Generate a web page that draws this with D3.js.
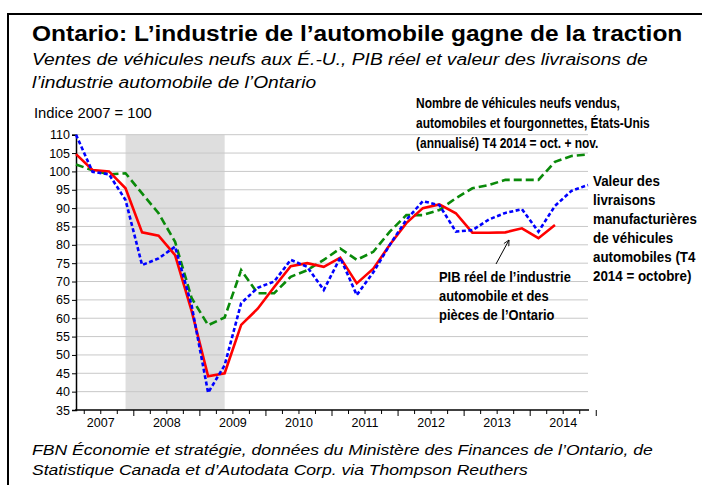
<!DOCTYPE html>
<html>
<head>
<meta charset="utf-8">
<script src="https://cdn.jsdelivr.net/npm/d3@7"></script>
<style>
  body { margin: 0; background: #fff; }
  svg { display: block; font-family: "Liberation Sans", Arial, sans-serif; }
</style>
</head>
<body>
<div id="chart"></div>
<script>
// Years and quarters (T1..T4)
const years = [2007, 2008, 2009, 2010, 2011, 2012, 2013, 2014];
const quarters = years.flatMap(y => [1, 2, 3, 4].map(q => `${y}T${q}`));

// Nombre de véhicules neufs vendus, É.-U. (indice 2007 = 100)
const ventes = [101.9, 100.3, 99.2, 99.5, 94, 88.6, 80.8, 65.5,
  58.1, 60.2, 73.1, 66.8, 66.8, 71.3, 73.1, 75.9,
  79, 75.9, 78.1, 83.6, 88.1, 88.1, 89.5, 92.7,
  95.4, 96.3, 97.7, 97.7, 97.7, 102.6, 104.2, 104.6];

// Valeur des livraisons manufacturières de véhicules automobiles
const livraisons = [110, 99.9, 99.2, 92.2, 74.5, 76.3, 79.5, 63.5,
  39.7, 47.2, 64.1, 68.3, 70, 75.9, 74, 67.7,
  76.5, 66.3, 72.5, 80, 86.8, 91.9, 90.8, 83.6,
  84, 86.9, 88.7, 89.7, 83.6, 90.6, 94.7, 96.3];

// PIB réel de l'industrie automobile et des pièces de l'Ontario
const pib = [104.7, 100.4, 100, 95.4, 83.4, 82.5, 77.2, 62,
  44.2, 45, 58.2, 62.6, 68.5, 74.2, 75, 74,
  76.5, 69.5, 73.5, 80, 85.9, 90, 91, 88.6,
  83.3, 83.3, 83.4, 84.5, 81.8, 85.4];

const yTicks = d3.range(35, 111, 5);
const recession = ["2007T4", "2009T2"];

const width = 702, height = 485;
const svg = d3.select("#chart").append("svg")
  .attr("width", width).attr("height", height);

// frame
svg.append("rect")
  .attr("x", 8).attr("y", 14).attr("width", 720).attr("height", 500)
  .attr("fill", "none").attr("stroke", "#000").attr("stroke-width", 2);

const x = d3.scalePoint().domain(quarters).range([76, 588]);
const y = d3.scaleLinear().domain([35, 110]).range([410, 134.7]);
const step = x.step();

// recession shading
svg.append("rect")
  .attr("x", x(recession[0]))
  .attr("y", y(110))
  .attr("width", x(recession[1]) - x(recession[0]))
  .attr("height", y(35) - y(110))
  .attr("fill", "#dedede");

// gridlines
svg.append("g")
  .selectAll("line")
  .data(yTicks.filter(d => d > 35))
  .join("line")
  .attr("x1", 76).attr("x2", 588)
  .attr("y1", d => y(d)).attr("y2", d => y(d))
  .attr("stroke", "#c8c8c8").attr("stroke-width", 1);

// y axis
const yAxis = svg.append("g")
  .attr("transform", "translate(76,0)")
  .call(d3.axisLeft(y).tickValues(yTicks).tickSize(4).tickPadding(2));
yAxis.select(".domain").attr("stroke-width", 1.5);
yAxis.selectAll("text").attr("font-size", 12.5).attr("fill", "#000")
  .attr("font-family", "Liberation Sans, Arial, sans-serif");

// x axis line and quarter ticks
svg.append("line")
  .attr("x1", 75).attr("x2", 589)
  .attr("y1", y(35)).attr("y2", y(35))
  .attr("stroke", "#000").attr("stroke-width", 1.5);

svg.append("g")
  .selectAll("line")
  .data(quarters.map((q, i) => ({ q, i })))
  .join("line")
  .attr("x1", d => x(d.q) + step / 2).attr("x2", d => x(d.q) + step / 2)
  .attr("y1", y(35))
  .attr("y2", d => y(35) + ((d.i % 4 === 3) ? 6 : 4))
  .attr("stroke", "#000").attr("stroke-width", 1);

svg.append("g")
  .selectAll("text")
  .data(years)
  .join("text")
  .attr("x", d => (x(`${d}T1`) + x(`${d}T4`)) / 2)
  .attr("y", 427)
  .attr("text-anchor", "middle")
  .attr("font-size", 12.5)
  .text(d => d);

// series
const line = d3.line()
  .x((d, i) => x(quarters[i]))
  .y(d => y(d));

svg.append("path").datum(ventes)
  .attr("d", line).attr("fill", "none")
  .attr("stroke", "#0a8a0a").attr("stroke-width", 2.6)
  .attr("stroke-dasharray", "8,4");

svg.append("path").datum(pib)
  .attr("d", line).attr("fill", "none")
  .attr("stroke", "#ff0000").attr("stroke-width", 2.6);

svg.append("path").datum(livraisons)
  .attr("d", line).attr("fill", "none")
  .attr("stroke", "#0000ff").attr("stroke-width", 2.6)
  .attr("stroke-dasharray", "4,2.5");

// text blocks: one line is condensed/stretched to the reference width
function block(lines, x0, y0, lh, size, target, opts = {}) {
  const g = svg.append("g");
  const t = g.selectAll("text").data(lines).join("text")
    .attr("x", 0).attr("y", (d, i) => y0 + i * lh)
    .attr("font-size", size)
    .attr("font-weight", opts.bold ? "bold" : null)
    .attr("font-style", opts.italic ? "italic" : null)
    .text(d => d);
  const w = t.nodes()[opts.fit || 0].getComputedTextLength();
  g.attr("transform", `translate(${x0},0) scale(${target / w},1)`);
  return g;
}

block(["Ontario: L’industrie de l’automobile gagne de la traction"],
  32, 41, 0, 22, 651, { bold: true });
block(["Ventes de véhicules neufs aux É.-U., PIB réel et valeur des livraisons de",
  "l’industrie automobile de l’Ontario"], 32, 65, 23, 16.5, 616, { italic: true });
block(["Indice 2007 = 100"], 34, 118, 0, 14.5, 118);

// annotations
block(["Nombre de véhicules neufs vendus,",
  "automobiles et fourgonnettes, États-Unis",
  "(annualisé) T4 2014 = oct. + nov."], 416, 108, 20, 15.5, 234, { bold: true, fit: 1 });
block(["Valeur des", "livraisons", "manufacturières", "de véhicules",
  "automobiles (T4", "2014 = octobre)"], 593, 186, 19, 15.5, 104, { bold: true, fit: 2 });
block(["PIB réel de l’industrie", "automobile et des", "pièces de l’Ontario"],
  439, 282, 19, 15.5, 132, { bold: true });

// arrow
svg.append("defs").append("marker")
  .attr("id", "arr").attr("viewBox", "0 0 10 10")
  .attr("refX", 9).attr("refY", 5)
  .attr("markerWidth", 7).attr("markerHeight", 7)
  .attr("orient", "auto")
  .append("path").attr("d", "M1,1 L9,5 L1,9")
  .attr("fill", "none").attr("stroke", "#000").attr("stroke-width", 1.2);
svg.append("line")
  .attr("x1", 496).attr("y1", 264).attr("x2", 509).attr("y2", 240)
  .attr("stroke", "#000").attr("stroke-width", 1)
  .attr("marker-end", "url(#arr)");

// source
block(["FBN Économie et stratégie, données du Ministère des Finances de l’Ontario, de",
  "Statistique Canada et d’Autodata Corp. via Thompson Reuthers"],
  32, 455, 20, 15, 621, { italic: true });
</script>
</body>
</html>
